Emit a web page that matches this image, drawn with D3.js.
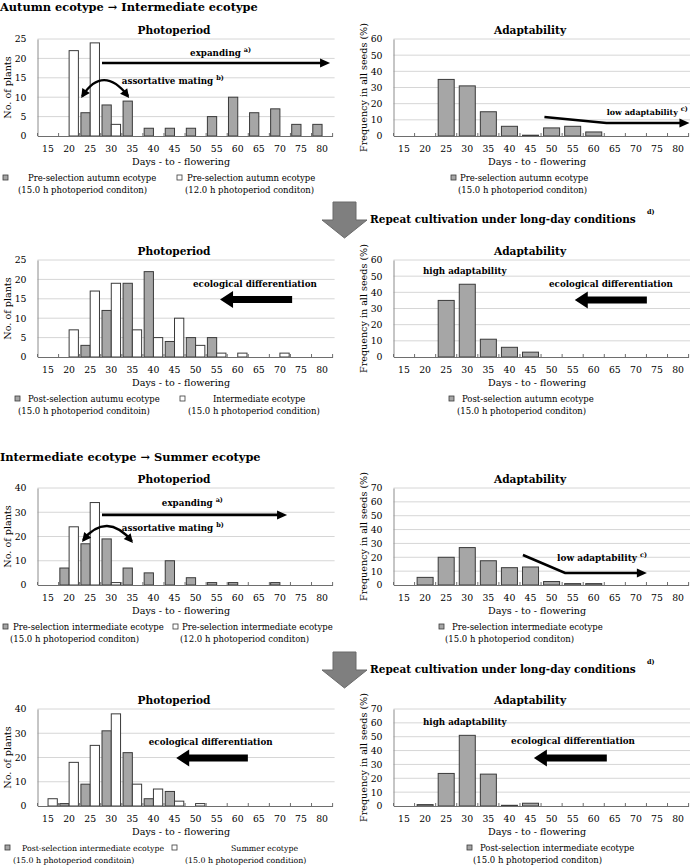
<!DOCTYPE html>
<html>
<head>
<meta charset="utf-8">
<script src="https://cdn.jsdelivr.net/npm/d3@7"></script>
<style>
  body { margin: 0; background: #fff; }
</style>
</head>
<body>
<div id="chart"></div>
<script>
var FONT = "DejaVu Serif";

// categories (days-to-flowering classes)
var days = ["15","20","25","30","35","40","45","50","55","60","65","70","75","80"];

// Autumn ecotype -> Intermediate ecotype
var autumnPre15h     = [0, 0, 6, 8, 9, 2, 2, 2, 5, 10, 6, 7, 3, 3];
var autumnPre12h     = [0, 22, 24, 3, 0, 0, 0, 0, 0, 0, 0, 0, 0, 0];
var autumnPreAdapt   = [0, 0, 35, 31, 15, 6, 0.5, 5, 6, 2.5, 0, 0, 0, 0];
var autumnPost15h    = [0, 0, 3, 12, 19, 22, 4, 5, 5, 0, 0, 0, 0, 0];
var intermediate15h  = [0, 7, 17, 19, 7, 5, 10, 3, 1, 1, 0, 1, 0, 0];
var autumnPostAdapt  = [0, 0, 35, 45, 11, 6, 3, 0, 0, 0, 0, 0, 0, 0];

// Intermediate ecotype -> Summer ecotype
var interPre15h      = [0, 7, 17, 19, 7, 5, 10, 3, 1, 1, 0, 1, 0, 0];
var interPre12h      = [0, 24, 34, 1, 0, 0, 0, 0, 0, 0, 0, 0, 0, 0];
var interPreAdapt    = [0, 5.5, 20, 27, 17.5, 12.5, 13, 2.5, 1, 1, 0, 0, 0, 0];
var interPost15h     = [0, 1, 9, 31, 22, 3, 6, 0, 0, 0, 0, 0, 0, 0];
var summer15h        = [3, 18, 25, 38, 9, 7, 2, 1, 0, 0, 0, 0, 0, 0];
var interPostAdapt   = [0, 1, 23.5, 51, 23, 0.5, 2, 0, 0, 0, 0, 0, 0, 0];

var GRAY = "#a6a6a6", WHITE = "#ffffff";

var svg = d3.select("#chart").append("svg")
    .attr("width", 690)
    .attr("height", 865)
    .attr("font-family", FONT);

// pick a font size so that a sample string gets the width seen in the figure
function sizeFor(str, width, weight) {
    var t = svg.append("text").attr("font-size", 10)
        .attr("font-weight", weight || "normal").text(str);
    var w = t.node().getComputedTextLength();
    t.remove();
    return 10 * width / w;
}

var SECTION_FS = sizeFor("Autumn ecotype \u2192 Intermediate ecotype", 258, "bold");
var REPEAT_FS  = sizeFor("Repeat cultivation under long-day conditions", 266, "bold");
var TITLE_FS   = sizeFor("Photoperiod", 73, "bold");
var NOTE_FS    = sizeFor("ecological differentiation", 124, "bold");
var LEGEND_FS  = sizeFor("Pre-selection intermediate ecotype", 151);
var AXIS_FS    = sizeFor("Days - to - flowering", 98);
var TICK_FS    = 9.3;

var LEFT = {x0: 37.5, x1: 332.6}, RIGHT = {x0: 393.5, x1: 688.6};
var PLOT_H = 97;

function arrowHead(g, p0, p1, len, half) {
    var dx = p1[0] - p0[0], dy = p1[1] - p0[1], L = Math.sqrt(dx*dx + dy*dy);
    var ux = dx / L, uy = dy / L;
    var bx = p1[0] - ux * len, by = p1[1] - uy * len;
    g.append("path")
        .attr("d", "M" + p1[0] + "," + p1[1] +
            "L" + (bx - uy * half) + "," + (by + ux * half) +
            "L" + (bx + uy * half) + "," + (by - ux * half) + "Z")
        .attr("fill", "#000");
}

function drawPanel(p) {
    var g = svg.append("g");
    var a = p.area;
    var y = d3.scaleLinear().domain([0, p.max]).range([p.bottom, p.bottom - PLOT_H]);
    var x = d3.scaleBand().domain(days).range([a.x0, a.x1])
        .paddingInner(p.pad).paddingOuter(p.pad / 2);
    var xd = d3.scaleLinear().domain([12.5, 82.5]).range([a.x0, a.x1]);
    var ticks = d3.range(0, p.max + 1, p.step);

    // gridlines
    g.selectAll(".grid").data(ticks.slice(1)).join("line")
        .attr("x1", a.x0).attr("x2", a.x1 + 2)
        .attr("y1", function(d) { return y(d); })
        .attr("y2", function(d) { return y(d); })
        .attr("stroke", "#d6d6d6");

    // y axis
    var ya = g.append("g")
        .attr("transform", "translate(" + a.x0 + ",0)")
        .call(d3.axisLeft(y).tickValues(ticks).tickSize(0).tickPadding(11));
    ya.attr("font-family", FONT);
    ya.select(".domain").attr("stroke", "#8c8c8c");
    ya.selectAll("text").attr("font-size", TICK_FS).attr("fill", "#000");

    // bars
    var sub = d3.scaleBand().domain(d3.range(p.series.length)).range([0, x.bandwidth()]);
    p.series.forEach(function(s, si) {
        g.selectAll(null)
            .data(s.values.map(function(v, i) { return {day: days[i], v: v}; })
                .filter(function(d) { return d.v > 0; }))
            .join("rect")
            .attr("x", function(d) { return x(d.day) + sub(si); })
            .attr("width", sub.bandwidth())
            .attr("y", function(d) { return y(d.v); })
            .attr("height", function(d) { return p.bottom - y(d.v); })
            .attr("fill", s.fill)
            .attr("stroke", "#3a3a3a")
            .attr("stroke-width", 1);
    });

    // x axis
    var xa = g.append("g")
        .attr("transform", "translate(0," + p.bottom + ")")
        .call(d3.axisBottom(x).tickSize(0).tickPadding(9));
    xa.attr("font-family", FONT);
    xa.select(".domain").attr("stroke", "#6e6e6e");
    xa.selectAll("text").attr("font-size", TICK_FS).attr("fill", "#000");
    g.selectAll(".btick").data(d3.range(days.length + 1)).join("line")
        .attr("x1", function(i) { return a.x0 + i * x.step(); })
        .attr("x2", function(i) { return a.x0 + i * x.step(); })
        .attr("y1", p.bottom).attr("y2", p.bottom - 3)
        .attr("stroke", "#6e6e6e");

    // titles
    var cx = (a.x0 + a.x1) / 2;
    g.append("text")
        .attr("x", cx - 11).attr("y", p.bottom - 102)
        .attr("text-anchor", "middle")
        .attr("font-size", TITLE_FS).attr("font-weight", "bold")
        .text(p.title);
    g.append("text")
        .attr("x", cx - 4).attr("y", p.bottom + 29)
        .attr("text-anchor", "middle")
        .attr("font-size", AXIS_FS)
        .text("Days - to - flowering");
    g.append("text")
        .attr("transform", "translate(" + (a.x0 - 27) + "," + (p.bottom - PLOT_H / 2) + ") rotate(-90)")
        .attr("text-anchor", "middle")
        .attr("font-size", AXIS_FS)
        .text(p.yLabel);

    // legend
    var lfs = LEGEND_FS * (p.legendScale || 1);
    p.legend.forEach(function(e) {
        g.append("rect")
            .attr("x", e.mx).attr("y", p.bottom + 39)
            .attr("width", 5).attr("height", 5)
            .attr("fill", e.fill).attr("stroke", "#3a3a3a").attr("stroke-width", 0.8);
        e.lines.forEach(function(l, li) {
            g.append("text")
                .attr("x", l[0]).attr("y", p.bottom + 45 + li * 11.5)
                .attr("font-size", lfs)
                .text(l[1]);
        });
    });

    // annotations (positions in data units: days, value)
    (p.notes || []).forEach(function(n) {
        if (n.type === "text") {
            var t = g.append("text")
                .attr("x", xd(n.at[0])).attr("y", y(n.at[1]))
                .attr("font-size", NOTE_FS).attr("font-weight", "bold");
            t.append("tspan").text(n.text);
            if (n.w) {
                t.attr("font-size", NOTE_FS * n.w / t.node().getComputedTextLength());
            }
            if (n.sup) {
                t.append("tspan").attr("dx", 3).attr("dy", -4)
                    .attr("font-size", 6.5).text(n.sup);
            }
        } else if (n.type === "line") {
            var pts = n.pts.map(function(q) { return [xd(q[0]), y(q[1])]; });
            var last = pts[pts.length - 1], prev = pts[pts.length - 2];
            var dx = last[0] - prev[0], dy = last[1] - prev[1], L = Math.sqrt(dx*dx + dy*dy);
            var end = [last[0] - dx / L * 8, last[1] - dy / L * 8];
            g.append("path")
                .attr("d", d3.line()(pts.slice(0, -1).concat([end])))
                .attr("fill", "none").attr("stroke", "#000").attr("stroke-width", 2.6);
            arrowHead(g, prev, last, 10, 4.5);
        } else if (n.type === "curve") {
            var c = n.pts.map(function(q) { return [xd(q[0]), y(q[1])]; });
            var ctrl = [2 * c[1][0] - (c[0][0] + c[2][0]) / 2, 2 * c[1][1] - (c[0][1] + c[2][1]) / 2];
            g.append("path")
                .attr("d", "M" + c[0] + "Q" + ctrl + " " + c[2])
                .attr("fill", "none").attr("stroke", "#000").attr("stroke-width", 2.4);
            arrowHead(g, ctrl, [c[0][0] - 1, c[0][1] + 2], 9, 4.5);
            arrowHead(g, ctrl, [c[2][0] + 1, c[2][1] + 2], 9, 4.5);
        } else if (n.type === "thick") {
            var s0 = [xd(n.from[0]), y(n.from[1])], tip = [xd(n.to[0]), y(n.to[1])];
            var hx = tip[0] + 13;
            g.append("path")
                .attr("d", "M" + s0[0] + "," + (s0[1] - 3.5) + "L" + hx + "," + (s0[1] - 3.5) +
                    "L" + hx + "," + (s0[1] - 8.5) + "L" + tip[0] + "," + tip[1] +
                    "L" + hx + "," + (s0[1] + 8.5) + "L" + hx + "," + (s0[1] + 3.5) +
                    "L" + s0[0] + "," + (s0[1] + 3.5) + "Z")
                .attr("fill", "#000");
        }
    });
}

function bigArrow(top, textY) {
    var cx = 344.5;
    svg.append("path")
        .attr("d", "M" + (cx - 11.5) + "," + top + "H" + (cx + 11.5) + "V" + (top + 18) +
            "H" + (cx + 22.5) + "L" + cx + "," + (top + 36) + "L" + (cx - 22.5) + "," + (top + 18) +
            "H" + (cx - 11.5) + "Z")
        .attr("fill", "#7f7f7f").attr("stroke", "#6a6a6a");
    svg.append("text").attr("x", 370).attr("y", textY)
        .attr("font-size", REPEAT_FS).attr("font-weight", "bold")
        .text("Repeat cultivation under long-day conditions");
    svg.append("text").attr("x", 647).attr("y", textY - 9)
        .attr("font-size", 6.5).attr("font-weight", "bold").text("d)");
}

function section(text, yPos) {
    svg.append("text").attr("x", 0).attr("y", yPos)
        .attr("font-size", SECTION_FS).attr("font-weight", "bold")
        .text(text);
}

section("Autumn ecotype \u2192 Intermediate ecotype", 11);
section("Intermediate ecotype \u2192 Summer ecotype", 461);
bigArrow(202, 223);
bigArrow(652, 673);

// row 1
drawPanel({
    area: LEFT, bottom: 136, max: 25, step: 5, pad: 0.12,
    title: "Photoperiod", yLabel: "No. of plants",
    series: [{values: autumnPre15h, fill: GRAY}, {values: autumnPre12h, fill: WHITE}],
    legend: [
        {mx: 3, fill: GRAY, lines: [[28, "Pre-selection autumn ecotype"], [18, "(15.0 h photoperiod conditon)"]]},
        {mx: 177, fill: WHITE, lines: [[187, "Pre-selection autumn ecotype"], [185, "(12.0 h photoperiod conditon)"]]}
    ],
    notes: [
        {type: "text", at: [48.7, 20.6], text: "expanding", sup: "a)"},
        {type: "line", pts: [[27.8, 18.8], [81.9, 18.8]]},
        {type: "text", at: [32.5, 13.4], text: "assortative mating", sup: "b)"},
        {type: "curve", pts: [[23.1, 10.3], [28.3, 14.4], [34.0, 10.3]]}
    ]
});
drawPanel({
    area: RIGHT, bottom: 136, max: 60, step: 10, pad: 0.24,
    title: "Adaptability", yLabel: "Frequency in all seeds (%)",
    series: [{values: autumnPreAdapt, fill: GRAY}],
    legend: [
        {mx: 451, fill: GRAY, lines: [[460, "Pre-selection autumn ecotype"], [458, "(15.0 h photoperiod conditon)"]]}
    ],
    notes: [
        {type: "text", at: [63.1, 13.0], text: "low adaptability", sup: "c)", w: 71},
        {type: "line", pts: [[48.3, 11.8], [63.0, 8.0], [82.7, 8.0]]}
    ]
});

// row 2
drawPanel({
    area: LEFT, bottom: 357, max: 25, step: 5, pad: 0.12,
    title: "Photoperiod", yLabel: "No. of plants",
    series: [{values: autumnPost15h, fill: GRAY}, {values: intermediate15h, fill: WHITE}],
    legend: [
        {mx: 15, fill: GRAY, lines: [[28, "Post-selection autumu ecotype"], [18, "(15.0 h photoperiod conditoin)"]]},
        {mx: 180, fill: WHITE, lines: [[213, "Intermediate ecotype"], [188, "(15.0 h photoperiod condition)"]]}
    ],
    notes: [
        {type: "text", at: [49.4, 18.0], text: "ecological differentiation"},
        {type: "thick", from: [72.9, 14.8], to: [55.8, 14.8]}
    ]
});
drawPanel({
    area: RIGHT, bottom: 357, max: 60, step: 10, pad: 0.24,
    title: "Adaptability", yLabel: "Frequency in all seeds (%)",
    series: [{values: autumnPostAdapt, fill: GRAY}],
    legend: [
        {mx: 449, fill: GRAY, lines: [[462, "Post-selection autumn ecotype"], [457, "(15.0 h photoperiod conditon)"]]}
    ],
    notes: [
        {type: "text", at: [19.5, 51.3], text: "high adaptability"},
        {type: "text", at: [49.4, 43.3], text: "ecological differentiation"},
        {type: "thick", from: [72.6, 35.3], to: [55.5, 35.3]}
    ]
});

// row 3
drawPanel({
    area: LEFT, bottom: 585, max: 40, step: 10, pad: 0.12,
    title: "Photoperiod", yLabel: "No. of plants",
    series: [{values: interPre15h, fill: GRAY}, {values: interPre12h, fill: WHITE}],
    legend: [
        {mx: 3, fill: GRAY, lines: [[13, "Pre-selection intermediate ecotype"], [10, "(15.0 h photoperiod conditon)"]]},
        {mx: 173, fill: WHITE, lines: [[182, "Pre-selection intermediate ecotype"], [180, "(12.0 h photoperiod conditon)"]]}
    ],
    notes: [
        {type: "text", at: [42.0, 32.6], text: "expanding", sup: "a)"},
        {type: "line", pts: [[27.8, 28.9], [71.7, 28.9]]},
        {type: "text", at: [32.5, 22.3], text: "assortative mating", sup: "b)"},
        {type: "curve", pts: [[23.3, 18.6], [29.0, 24.3], [34.9, 18.1]]}
    ]
});
drawPanel({
    area: RIGHT, bottom: 585, max: 70, step: 10, pad: 0.24,
    title: "Adaptability", yLabel: "Frequency in all seeds (%)",
    series: [{values: interPreAdapt, fill: GRAY}],
    legend: [
        {mx: 439, fill: GRAY, lines: [[452, "Pre-selection intermediate ecotype"], [445, "(15.0 h photoperiod conditon)"]]}
    ],
    notes: [
        {type: "text", at: [51.3, 17.3], text: "low adaptability", sup: "c)", w: 80},
        {type: "line", pts: [[43.2, 21.6], [53.2, 8.7], [72.6, 8.7]]}
    ]
});

// row 4
drawPanel({
    area: LEFT, bottom: 806, max: 40, step: 10, pad: 0.12, legendScale: 0.92,
    title: "Photoperiod", yLabel: "No. of plants",
    series: [{values: interPost15h, fill: GRAY}, {values: summer15h, fill: WHITE}],
    legend: [
        {mx: 5, fill: GRAY, lines: [[22, "Post-selection intermediate ecotype"], [13, "(15.0 h photoperiod conditoin)"]]},
        {mx: 172, fill: WHITE, lines: [[231, "Summer ecotype"], [185, "(15.0 h photoperiod condition)"]]}
    ],
    notes: [
        {type: "text", at: [38.9, 25.2], text: "ecological differentiation"},
        {type: "thick", from: [62.4, 19.8], to: [45.4, 19.8]}
    ]
});
drawPanel({
    area: RIGHT, bottom: 806, max: 70, step: 10, pad: 0.24,
    title: "Adaptability", yLabel: "Frequency in all seeds (%)",
    series: [{values: interPostAdapt, fill: GRAY}],
    legend: [
        {mx: 467, fill: GRAY, lines: [[480, "Post-selection intermediate ecotype"], [473, "(15.0 h photoperiod conditon)"]]}
    ],
    notes: [
        {type: "text", at: [19.5, 58.5], text: "high adaptability"},
        {type: "text", at: [40.4, 44.7], text: "ecological differentiation"},
        {type: "thick", from: [63.1, 34.6], to: [45.8, 34.6]}
    ]
});
</script>
</body>
</html>
